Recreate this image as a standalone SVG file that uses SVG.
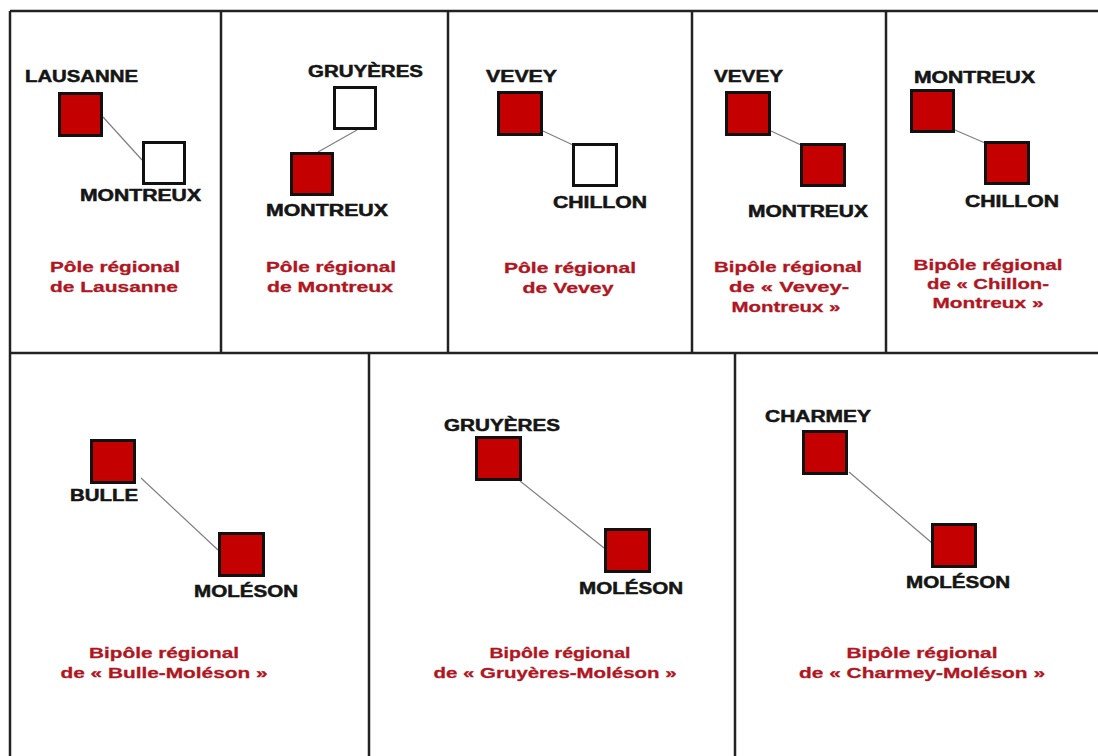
<svg xmlns="http://www.w3.org/2000/svg" width="1098" height="756" viewBox="0 0 1098 756">
<style>
.frame{fill:none;stroke:#222;stroke-width:2.5}
.red{fill:#c40000;stroke:#111;stroke-width:3}
.wht{fill:#fff;stroke:#111;stroke-width:3}
.lbl{font-family:"Liberation Sans",Arial,sans-serif;font-weight:bold;font-size:16px;fill:#151515;stroke:#151515;stroke-width:0.5}
.cap{font-family:"Liberation Sans",Arial,sans-serif;font-weight:bold;font-size:15.5px;fill:#b0161f;stroke:#b0161f;stroke-width:0.3;text-anchor:middle}
.link{stroke:#808080;stroke-width:1.2;fill:none}
</style>
<rect x="0" y="0" width="1098" height="756" fill="#fff"/>
<g id="frames">
<line class="frame" x1="10" y1="11" x2="1098" y2="11"/>
<line class="frame" x1="10" y1="11" x2="10" y2="756"/>
<line class="frame" x1="10" y1="353" x2="1098" y2="353"/>
<line class="frame" x1="221" y1="11" x2="221" y2="353"/>
<line class="frame" x1="448" y1="11" x2="448" y2="353"/>
<line class="frame" x1="692" y1="11" x2="692" y2="353"/>
<line class="frame" x1="886" y1="11" x2="886" y2="353"/>
<line class="frame" x1="369" y1="353" x2="369" y2="756"/>
<line class="frame" x1="735" y1="353" x2="735" y2="756"/>
</g>
<g id="connectors">
<line class="link" x1="103" y1="117" x2="142" y2="160"/>
<line class="link" x1="357" y1="130" x2="318" y2="152"/>
<line class="link" x1="543" y1="131" x2="573" y2="145"/>
<line class="link" x1="771" y1="131" x2="801" y2="145"/>
<line class="link" x1="955" y1="130" x2="985" y2="143"/>
<line class="link" x1="141" y1="478" x2="218" y2="550"/>
<line class="link" x1="520" y1="481" x2="604" y2="548"/>
<line class="link" x1="849" y1="472" x2="932" y2="543"/>
</g>
<g id="panel-lausanne">
<rect class="red" x="59.5" y="93.5" width="42" height="42"/>
<rect class="wht" x="143.5" y="142.5" width="41" height="41"/>
<text class="lbl" x="25" y="82" textLength="113" lengthAdjust="spacingAndGlyphs">LAUSANNE</text>
<text class="lbl" x="80" y="201" textLength="121" lengthAdjust="spacingAndGlyphs">MONTREUX</text>
<text class="cap" x="115" y="272" textLength="130" lengthAdjust="spacingAndGlyphs">Pôle régional</text>
<text class="cap" x="114" y="292" textLength="128" lengthAdjust="spacingAndGlyphs">de Lausanne</text>
</g>
<g id="panel-montreux">
<rect class="wht" x="334.5" y="87.5" width="41" height="41"/>
<rect class="red" x="291.5" y="153.5" width="41" height="41"/>
<text class="lbl" x="308" y="77" textLength="115" lengthAdjust="spacingAndGlyphs">GRUYÈRES</text>
<text class="lbl" x="266" y="216" textLength="122" lengthAdjust="spacingAndGlyphs">MONTREUX</text>
<text class="cap" x="331" y="272" textLength="130" lengthAdjust="spacingAndGlyphs">Pôle régional</text>
<text class="cap" x="330" y="292" textLength="126" lengthAdjust="spacingAndGlyphs">de Montreux</text>
</g>
<g id="panel-vevey">
<rect class="red" x="498.5" y="92.5" width="43" height="42"/>
<rect class="wht" x="573.5" y="144.5" width="43" height="41"/>
<text class="lbl" x="486" y="82" textLength="71" lengthAdjust="spacingAndGlyphs">VEVEY</text>
<text class="lbl" x="553" y="208" textLength="94" lengthAdjust="spacingAndGlyphs">CHILLON</text>
<text class="cap" x="570" y="273" textLength="132" lengthAdjust="spacingAndGlyphs">Pôle régional</text>
<text class="cap" x="568" y="293" textLength="91" lengthAdjust="spacingAndGlyphs">de Vevey</text>
</g>
<g id="panel-vevey-montreux">
<rect class="red" x="726.5" y="92.5" width="43" height="42"/>
<rect class="red" x="801.5" y="144.5" width="43" height="41"/>
<text class="lbl" x="714" y="82" textLength="69" lengthAdjust="spacingAndGlyphs">VEVEY</text>
<text class="lbl" x="748" y="217" textLength="120" lengthAdjust="spacingAndGlyphs">MONTREUX</text>
<text class="cap" x="788" y="272" textLength="148" lengthAdjust="spacingAndGlyphs">Bipôle régional</text>
<text class="cap" x="789" y="292" textLength="120" lengthAdjust="spacingAndGlyphs">de « Vevey-</text>
<text class="cap" x="786" y="312" textLength="109" lengthAdjust="spacingAndGlyphs">Montreux »</text>
</g>
<g id="panel-chillon-montreux">
<rect class="red" x="911.5" y="90.5" width="42" height="41"/>
<rect class="red" x="985.5" y="142.5" width="43" height="41"/>
<text class="lbl" x="914" y="83" textLength="121" lengthAdjust="spacingAndGlyphs">MONTREUX</text>
<text class="lbl" x="965" y="207" textLength="94" lengthAdjust="spacingAndGlyphs">CHILLON</text>
<text class="cap" x="988" y="270" textLength="149" lengthAdjust="spacingAndGlyphs">Bipôle régional</text>
<text class="cap" x="988" y="289" textLength="122" lengthAdjust="spacingAndGlyphs">de « Chillon-</text>
<text class="cap" x="988" y="308" textLength="111" lengthAdjust="spacingAndGlyphs">Montreux »</text>
</g>
<g id="panel-bulle-moleson">
<rect class="red" x="91.5" y="440.5" width="43" height="42"/>
<rect class="red" x="219.5" y="533.5" width="44" height="42"/>
<text class="lbl" x="70" y="501" textLength="68" lengthAdjust="spacingAndGlyphs">BULLE</text>
<text class="lbl" x="194" y="597" textLength="104" lengthAdjust="spacingAndGlyphs">MOLÉSON</text>
<text class="cap" x="164" y="658" textLength="150" lengthAdjust="spacingAndGlyphs">Bipôle régional</text>
<text class="cap" x="164" y="678" textLength="207" lengthAdjust="spacingAndGlyphs">de « Bulle-Moléson »</text>
</g>
<g id="panel-gruyeres-moleson">
<rect class="red" x="476.5" y="437.5" width="44" height="42"/>
<rect class="red" x="605.5" y="529.5" width="44" height="42"/>
<text class="lbl" x="444" y="431" textLength="116" lengthAdjust="spacingAndGlyphs">GRUYÈRES</text>
<text class="lbl" x="579" y="594" textLength="104" lengthAdjust="spacingAndGlyphs">MOLÉSON</text>
<text class="cap" x="560" y="658" textLength="141" lengthAdjust="spacingAndGlyphs">Bipôle régional</text>
<text class="cap" x="555" y="678" textLength="243" lengthAdjust="spacingAndGlyphs">de « Gruyères-Moléson »</text>
</g>
<g id="panel-charmey-moleson">
<rect class="red" x="803.5" y="431.5" width="43" height="42"/>
<rect class="red" x="932.5" y="524.5" width="43" height="42"/>
<text class="lbl" x="765" y="422" textLength="106" lengthAdjust="spacingAndGlyphs">CHARMEY</text>
<text class="lbl" x="906" y="588" textLength="104" lengthAdjust="spacingAndGlyphs">MOLÉSON</text>
<text class="cap" x="922" y="658" textLength="151" lengthAdjust="spacingAndGlyphs">Bipôle régional</text>
<text class="cap" x="922" y="678" textLength="246" lengthAdjust="spacingAndGlyphs">de « Charmey-Moléson »</text>
</g>
</svg>
